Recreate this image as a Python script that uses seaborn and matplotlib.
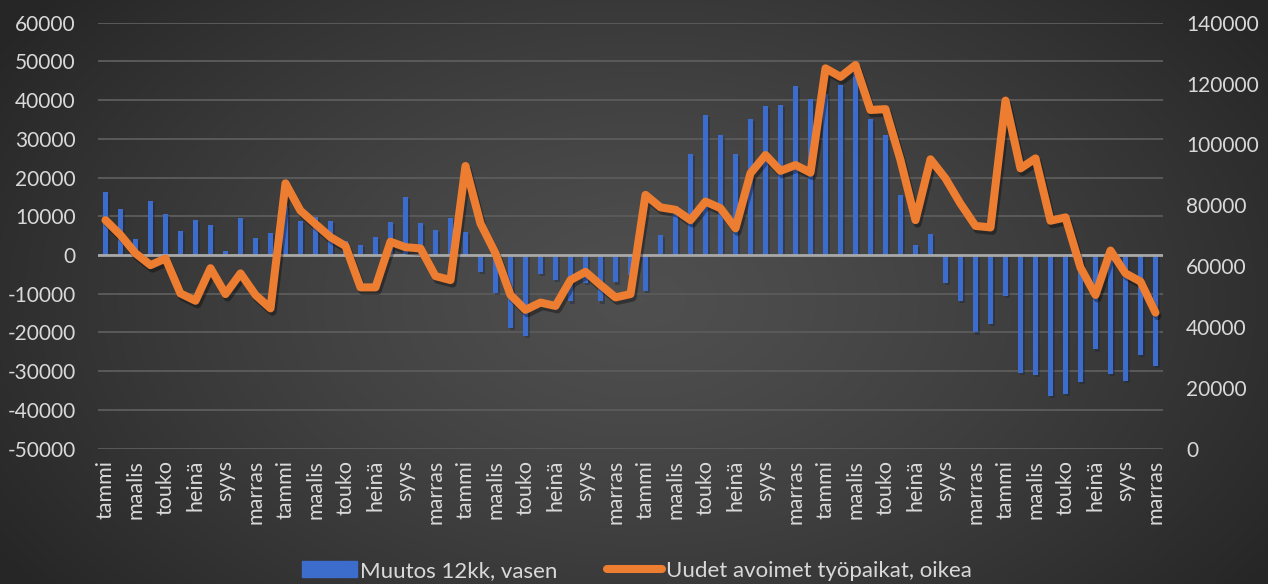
import numpy as np
import pandas as pd
import matplotlib
matplotlib.use('Agg')
import matplotlib.pyplot as plt
import matplotlib.patheffects as pe
from matplotlib.patches import Patch
from matplotlib.lines import Line2D
import seaborn as sns

plt.rcParams['font.family'] = ['Lato', 'DejaVu Sans']
plt.rcParams['axes.unicode_minus'] = False

# kuukausien nimet (joka toinen näkyy x-akselilla)
kuukaudet = ['tammi', 'helmi', 'maalis', 'huhti', 'touko', 'kesä',
             'heinä', 'elo', 'syys', 'loka', 'marras', 'joulu']

# Muutos 12kk (vasen akseli)
muutos_12kk = [16300, 11900, 4100, 14000, 10600, 6200, 9000, 7750, 1000, 9600, 4400, 5700,
               12700, 8800, 9800, 8800, 3600, 2600, 4650, 8500, 15000, 8300, 6500, 9600,
               5900, -4300, -9900, -18800, -20900, -4800, -6400, -12000, -7300, -12000, -7100, -5200,
               -9300, 5200, 12700, 26100, 36200, 31000, 26100, 35100, 38500, 38800, 43700, 40300,
               41600, 43900, 47000, 35100, 31000, 15500, 2600, 5400, -7200, -11800, -20000, -17700,
               -10500, -30400, -30900, -36500, -35800, -32700, -24400, -30700, -32500, -25800, -28600]

# Uudet avoimet työpaikat (oikea akseli)
avoimet = [75100, 70200, 64200, 60300, 62500, 51000, 48600, 59300, 50800, 57600, 50500, 46100,
           87200, 78200, 73800, 69500, 66600, 53000, 53000, 68000, 66200, 65800, 56700, 55400,
           92900, 74000, 64200, 50500, 45600, 48000, 46900, 55400, 58100, 53800, 49700, 50800,
           83400, 79300, 78500, 75100, 81200, 79000, 72400, 90500, 96500, 91300, 93200, 90700,
           125000, 122200, 126100, 111300, 111600, 94800, 75100, 95100, 88800, 80500, 73200, 72700,
           114400, 92100, 95400, 74900, 76000, 59500, 50500, 65100, 57600, 54900, 44700]

df = pd.DataFrame({'kk': range(len(muutos_12kk)), 'muutos': muutos_12kk, 'avoimet': avoimet})

fig = plt.figure(figsize=(12.68, 5.84), dpi=100)

# taustan säteittäinen liukuväri
bg = fig.add_axes([0, 0, 1, 1], zorder=-10)
yy, xx = np.mgrid[0:584, 0:1268]
d = np.sqrt(((xx - 640) / 760.0) ** 2 + ((yy - 300) / 480.0) ** 2)
d = np.clip(d, 0, 1)
val = 0.31 - (0.31 - 0.15) * d ** 1.3
bg.imshow(np.dstack([val, val, val]), aspect='auto', extent=[0, 1, 0, 1])
bg.axis('off')

ax = fig.add_axes([98 / 1268, 1 - 448.6 / 584, 1065 / 1268, (448.6 - 22.7) / 584])
ax.set_facecolor('none')

sns.barplot(data=df, x='kk', y='muutos', color='#3d6dcc', saturation=1, width=0.34, ax=ax)
for bar in ax.patches:
    bar.set_path_effects([pe.SimplePatchShadow(offset=(1.5, -1.5), alpha=0.35), pe.Normal()])

ax.set_ylim(-50000, 60000)
ax.set_yticks(range(-50000, 60001, 10000))
ax.set_xlim(-0.5, 70.5)
ax.set_xticks(range(0, 71, 2))
ax.set_xticklabels([kuukaudet[i % 12] for i in range(0, 71, 2)], rotation=90, va='top', ha='center')
ax.yaxis.grid(True, color='#5a5a5a', lw=1.4)
ax.set_axisbelow(True)
ax.axhline(0, color='#a8a8a8', lw=2, zorder=3)
ax.set_xlabel('')
ax.set_ylabel('')
ax.tick_params(axis='y', length=0, pad=16, labelsize=15, labelcolor='#d9d9d9')
ax.tick_params(axis='x', length=0, pad=8, labelsize=15.5, labelcolor='#d9d9d9')

ax2 = ax.twinx()
sns.lineplot(data=df, x='kk', y='avoimet', color='#ed7d31', lw=5.8, ax=ax2,
             solid_joinstyle='round', solid_capstyle='round',
             path_effects=[pe.SimpleLineShadow(offset=(1.5, -2.5), alpha=0.35), pe.Normal()])
ax2.set_ylim(0, 140000)
ax2.set_yticks(range(0, 140001, 20000))
ax2.set_xlim(-0.5, 70.5)
ax2.set_ylabel('')
ax2.tick_params(axis='y', length=0, pad=16.5, labelsize=15, labelcolor='#d9d9d9')

for a in (ax, ax2):
    for s in a.spines.values():
        s.set_visible(False)

handles = [Patch(color='#3d6dcc'),
           Line2D([0], [0], color='#ed7d31', lw=5.8, solid_capstyle='round')]
fig.legend(handles, ['Muutos 12kk, vasen', 'Uudet avoimet työpaikat, oikea'],
           loc='center', bbox_to_anchor=(0.502, 1 - 571 / 584), ncol=2, frameon=False,
           fontsize=16, labelcolor='#d9d9d9', handlelength=2.5, handletextpad=0.15,
           columnspacing=2.2)

plt.savefig('out.png', dpi=100)
